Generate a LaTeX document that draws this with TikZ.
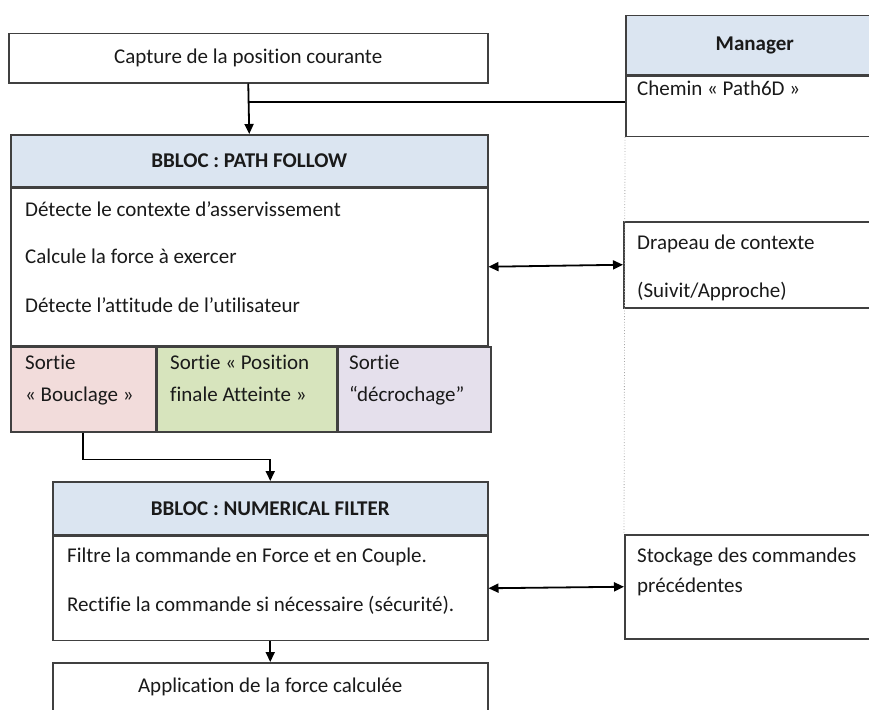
\documentclass[tikz,border=0pt]{standalone}
\usepackage{fontspec}
\setmainfont{Carlito}[Ligatures=NoCommon]
\usetikzlibrary{arrows.meta,positioning}
\definecolor{ink}{HTML}{1A1A1A}
\definecolor{edge}{HTML}{404040}
\definecolor{headblue}{HTML}{DBE5F1}
\definecolor{loopred}{HTML}{F2DCDB}
\definecolor{donegreen}{HTML}{D7E4BD}
\definecolor{droplilac}{HTML}{E5E0EC}
\newcommand\boxfont{\fontsize{21}{25}\selectfont}
\tikzset{
  basebox/.style={draw=edge,line width=1.5pt,fill=white,inner sep=0pt,text=ink,font=\boxfont},
  headbox/.style={basebox,fill=headblue,font=\boxfont\bfseries},
  cellbox/.style={basebox,minimum height=85pt},
  txt/.style={inner sep=0pt,anchor=base west,text=ink,font=\boxfont},
  arrow/.style={-{Triangle[length=10pt,width=9pt]},line width=1.8pt,draw=black},
  twoway/.style={{Triangle[length=10pt,width=9pt]}-{Triangle[length=10pt,width=9pt]},line width=1.8pt,draw=black},
  link/.style={line width=1.8pt,draw=black},
  guide/.style={dotted,line width=0.8pt,draw=gray!70}
}
\begin{document}
\begin{tikzpicture}[x=1pt,y=-1pt]
  \path[use as bounding box,clip] (0,0) rectangle (869,709);

  % entree
  \node[basebox,anchor=north west,minimum width=479pt,minimum height=49pt] (cap) at (8,33)
    {Capture de la position courante};

  % manager
  \node[headbox,anchor=north west,minimum width=258pt,minimum height=59pt] (mgrhead) at (625,15) {Manager};
  \node[basebox,below=0pt of mgrhead,minimum width=258pt,minimum height=60pt] (mgrbody) {};
  \node[txt] (pathtxt) at (637,95) {Chemin «~Path6D~»};

  % bbloc path follow
  \node[headbox,anchor=north west,minimum width=477pt,minimum height=52pt] (pfhead) at (10,134)
    {BBLOC : PATH FOLLOW};
  \node[basebox,below=0pt of pfhead,minimum width=477pt,minimum height=157pt] (pfbody) {};
  \node[txt] (pfctx) at (25,216) {Détecte le contexte d’asservissement};
  \node[txt] (pfforce) at (25,263) {Calcule la force à exercer};
  \node[txt] (pfuser) at (25,312) {Détecte l’attitude de l’utilisateur};

  \node[cellbox,fill=loopred,anchor=north west,minimum width=145pt] (pfloop) at (pfbody.south west) {};
  \node[cellbox,fill=donegreen,anchor=north west,minimum width=179pt] (pfdone) at (pfloop.north east) {};
  \node[cellbox,fill=droplilac,anchor=north west,minimum width=153pt] (pfdrop) at (pfdone.north east) {};
  \node[txt] (loop1) at (25,369) {Sortie};
  \node[txt] (loop2) at (25,401) {«~Bouclage~»};
  \node[txt] (done1) at (170,369) {Sortie «~Position};
  \node[txt] (done2) at (170,401) {finale Atteinte~»};
  \node[txt] (drop1) at (349,369) {Sortie};
  \node[txt] (drop2) at (349,401) {“décrochage”};

  % drapeau
  \node[basebox,anchor=north west,minimum width=260pt,minimum height=86pt] (flag) at (623,221) {};
  \node[txt] (flag1) at (637,249) {Drapeau de contexte};
  \node[txt] (flag2) at (637,297) {(Suivit/Approche)};

  % bbloc numerical filter
  \node[headbox,anchor=north west,minimum width=435pt,minimum height=53pt] (nfhead) at (52,481)
    {BBLOC : NUMERICAL FILTER};
  \node[basebox,below=0pt of nfhead,minimum width=435pt,minimum height=104pt] (nfbody) {};
  \node[txt] (nfcmd) at (67,562) {Filtre la commande en Force et en Couple.};
  \node[txt] (nfsafe) at (67,611) {Rectifie la commande si nécessaire (sécurité).};

  % stockage
  \node[basebox,anchor=north west,minimum width=260pt,minimum height=104pt] (store) at (624,534) {};
  \node[txt] (store1) at (637,562) {Stockage des commandes};
  \node[txt] (store2) at (637,592) {précédentes};

  % sortie
  \node[basebox,anchor=north west,minimum width=435pt,minimum height=48pt] (apply) at (52,662)
    {Application de la force calculée};

  % liaisons
  \draw[guide] (mgrbody.south west) -- (store.north west);
  \draw[link] ([yshift=4pt]mgrbody.west) -- ([yshift=4pt]mgrbody.west -| cap.south);
  \draw[arrow] (cap.south) -- (pfhead.north);
  \draw[twoway] (pfbody.east) -- (flag.west);
  \draw[arrow] (pfloop.south) |- ++(0,27) -| (nfhead.north);
  \draw[twoway] (nfbody.east) -- (store.west);
  \draw[arrow] (nfbody.south) -- (apply.north);
\end{tikzpicture}
\end{document}
